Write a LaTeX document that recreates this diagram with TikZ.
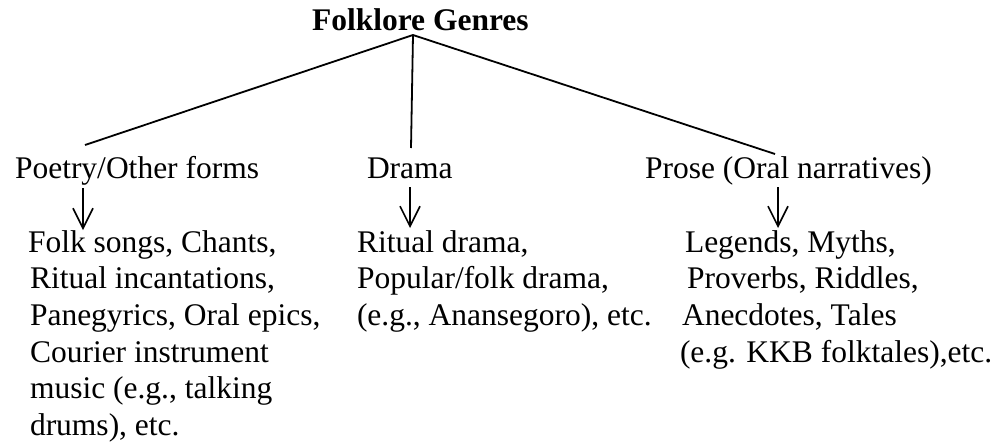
\documentclass[tikz,border=0pt]{standalone}
\usepackage{fontspec}
\setmainfont{Liberation Serif}
\usetikzlibrary{arrows.meta}
\newcommand{\blk}[1]{\begin{tabular}[t]{@{}l@{}}#1\end{tabular}}
\begin{document}
\begin{tikzpicture}[x=1pt,y=-1pt,
  txt/.style={anchor=base west,inner sep=0pt,outer sep=0pt,
    font=\fontsize{31.5}{36.7}\selectfont},
  link/.style={line width=1.8pt},
  arr/.style={line width=1.6pt,-{Straight Barb[length=20pt,width=20pt,line width=1.6pt]}}]
\useasboundingbox (0,0) rectangle (1003,442);
% title
\node[txt,font=\fontsize{31.5}{36.7}\selectfont\bfseries] (title) at (312,30) {Folklore Genres};
\coordinate (apex) at (413,35);
% second row
\node[txt] (poetry) at (15,178) {Poetry/Other forms};
\node[txt] (drama) at (367,178) {Drama};
\node[txt] (prose) at (645,178) {Prose (Oral narratives)};
\coordinate (pTop) at (85,145);
\coordinate (dTop) at (411,148);
\coordinate (rTop) at (775,154);
\draw[link] (pTop) -- (apex) -- (rTop);
\draw[link] (apex) -- (dTop);
% blocks
\node[txt] (pblock) at (28,252) {\blk{Folk songs, Chants,\\
\hspace{2pt}Ritual incantations,\\
\hspace{2pt}Panegyrics, Oral epics,\\
\hspace{2pt}Courier instrument\\
\hspace{2pt}music (e.g., talking\\
\hspace{2pt}drums), etc.}};
\node[txt] (dblock) at (357,252) {\blk{Ritual drama,\\
Popular/folk drama,\\
(e.g., Anansegoro), etc.}};
\node[txt] (rblock) at (680,252) {\blk{\hspace{5pt}Legends, Myths,\\
\hspace{7pt}Proverbs, Riddles,\\
\hspace{2pt}Anecdotes, Tales\\
(e.g. KKB folktales),etc.}};
% arrows
\coordinate (pa1) at (83,188);
\coordinate (pa2) at (83,230);
\coordinate (da1) at (410,187);
\coordinate (da2) at (410,228);
\coordinate (ra1) at (778,187);
\coordinate (ra2) at (778,228);
\draw[arr] (pa1) -- (pa2);
\draw[arr] (da1) -- (da2);
\draw[arr] (ra1) -- (ra2);
\end{tikzpicture}
\end{document}
